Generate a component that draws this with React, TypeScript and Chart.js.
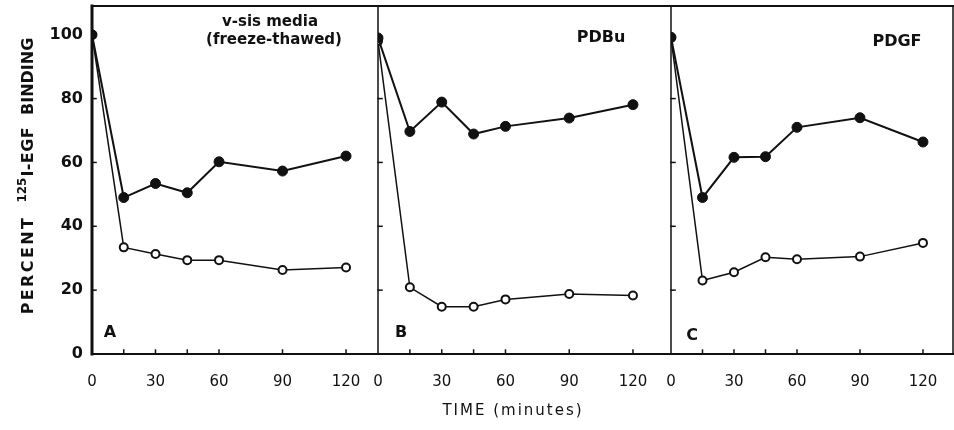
import React, { useEffect, useRef } from "react";
import { Chart, registerables } from "chart.js";

Chart.register(...registerables);

// ---- data ----
const times = [0, 15, 30, 45, 60, 90, 120];
const xTickLabels = [0, 30, 60, 90, 120];
const xMinorTicks = [15, 30, 45, 60, 90, 120];
const yTickValues = [0, 20, 40, 60, 80, 100];
const yInnerTicks = [20, 40, 60, 80];

const panelAFilled = [100, 49, 53.4, 50.5, 60.2, 57.3, 62];
const panelAOpen = [100, 33.4, 31.3, 29.4, 29.4, 26.3, 27.1];
const panelBFilled = [99, 69.7, 78.9, 68.9, 71.3, 73.9, 78.1];
const panelBOpen = [98, 20.9, 14.8, 14.8, 17.1, 18.8, 18.3];
const panelCFilled = [99.2, 49, 61.6, 61.8, 71, 74, 66.4];
const panelCOpen = [99, 23, 25.6, 30.3, 29.7, 30.5, 34.8];

const panelLetters = ["A", "B", "C"];
const panelTitles = [["v-sis media", "(freeze-thawed)"], ["PDBu"], ["PDGF"]];
const xTitle = "TIME (minutes)";
const yTitleParts = ["PERCENT", "125", "I-EGF", "BINDING"];

const INK = "#111111";
const FONT = "'DejaVu Sans', sans-serif";

function pts(values: number[]) {
  return times.map((t, i) => ({ x: t, y: values[i] }));
}

const filledStyle = {
  borderColor: INK,
  backgroundColor: INK,
  pointBackgroundColor: INK,
  pointBorderColor: INK,
  pointRadius: 5,
  pointBorderWidth: 1,
  borderWidth: 2,
  tension: 0,
};
const openStyle = {
  borderColor: INK,
  backgroundColor: "#ffffff",
  pointBackgroundColor: "#ffffff",
  pointBorderColor: INK,
  pointRadius: 4,
  pointBorderWidth: 2,
  borderWidth: 1.5,
  tension: 0,
};

const panelIds = ["x1", "x2", "x3"];
const panelWeights = [286, 293, 282];
const panelMax = [135.1, 137.9, 134.3];

const framePlugin = {
  id: "frame",
  beforeDatasetsDraw(chart: any) {
    const { ctx, chartArea } = chart;
    const { top, bottom, right } = chartArea;
    const ys = chart.scales.y;
    const line = (x1: number, y1: number, x2: number, y2: number) => {
      ctx.beginPath();
      ctx.moveTo(x1, y1);
      ctx.lineTo(x2, y2);
      ctx.stroke();
    };
    ctx.save();
    ctx.strokeStyle = INK;
    ctx.lineCap = "square";
    ctx.lineWidth = 2;
    line(chartArea.left, top, right, top);
    line(chartArea.left, bottom, right, bottom);
    panelIds.forEach((id, i) => {
      const s = chart.scales[id];
      ctx.lineWidth = i === 0 ? 3 : 1.5;
      line(s.left, top, s.left, bottom);
      ctx.lineWidth = 1.5;
      yInnerTicks.forEach((v) => {
        const y = ys.getPixelForValue(v);
        line(s.left, y, s.left + 4, y);
      });
      xMinorTicks.forEach((t) => {
        const x = s.getPixelForValue(t);
        line(x, bottom, x, bottom - 4);
      });
    });
    ctx.lineWidth = 1.5;
    line(right, top, right, bottom);
    ctx.restore();
  },
  afterDatasetsDraw(chart: any) {
    const { ctx, chartArea } = chart;
    ctx.save();
    ctx.fillStyle = INK;
    ctx.textAlign = "center";
    ctx.textBaseline = "middle";
    const titleOffsets = [
      [{ dx: 178, y: 22, size: 15 }, { dx: 182, y: 40, size: 15 }],
      [{ dx: 223, y: 38, size: 16 }],
      [{ dx: 226, y: 42, size: 16 }],
    ];
    const letterOffsets = [
      { dx: 18, y: 333 },
      { dx: 23, y: 333 },
      { dx: 21, y: 336 },
    ];
    panelIds.forEach((id, i) => {
      const s = chart.scales[id];
      panelTitles[i].forEach((t, j) => {
        const o = titleOffsets[i][j];
        ctx.font = `bold ${o.size}px ${FONT}`;
        ctx.fillText(t, s.left + o.dx, o.y);
      });
      ctx.font = `bold 16px ${FONT}`;
      ctx.fillText(panelLetters[i], s.left + letterOffsets[i].dx, letterOffsets[i].y);
    });

    // x title
    ctx.font = `15px ${FONT}`;
    (ctx as any).letterSpacing = "2px";
    ctx.fillText(xTitle, 513, 411);
    (ctx as any).letterSpacing = "0px";

    // y title (rotated)
    ctx.translate(33, (chartArea.top + chartArea.bottom) / 2 - 4);
    ctx.rotate(-Math.PI / 2);
    ctx.textAlign = "left";
    ctx.textBaseline = "alphabetic";
    const segs = [
      { t: yTitleParts[0], size: 16, sp: 2.4, rise: 0, gap: 13 },
      { t: yTitleParts[1], size: 12, sp: 0, rise: -7, gap: 1 },
      { t: yTitleParts[2], size: 16, sp: 0.4, rise: 0, gap: 12 },
      { t: yTitleParts[3], size: 16, sp: 0, rise: 0, gap: 0 },
    ];
    const widths = segs.map((s) => {
      ctx.font = `bold ${s.size}px ${FONT}`;
      (ctx as any).letterSpacing = `${s.sp}px`;
      return ctx.measureText(s.t).width;
    });
    const total = widths.reduce((a, b) => a + b, 0) + segs.reduce((a, s) => a + s.gap, 0);
    let x = -total / 2;
    segs.forEach((s, i) => {
      ctx.font = `bold ${s.size}px ${FONT}`;
      (ctx as any).letterSpacing = `${s.sp}px`;
      ctx.fillText(s.t, x, s.rise);
      x += widths[i] + s.gap;
    });
    (ctx as any).letterSpacing = "0px";
    ctx.restore();
  },
};

function xScale(i: number) {
  return {
    type: "linear" as const,
    position: "bottom" as const,
    stack: "time",
    stackWeight: panelWeights[i],
    min: 0,
    max: panelMax[i],
    grid: { display: false, drawTicks: false },
    border: { display: false },
    afterBuildTicks: (scale: any) => {
      scale.ticks = xTickLabels.map((v) => ({ value: v }));
    },
    afterFit: (scale: any) => {
      scale.height = 76;
      scale.paddingLeft = 0;
      scale.paddingRight = 0;
    },
    ticks: {
      autoSkip: false,
      maxRotation: 0,
      padding: 19,
      color: INK,
      font: { family: FONT, size: 15 },
    },
  };
}

export default function App() {
  const canvasRef = useRef<HTMLCanvasElement | null>(null);

  useEffect(() => {
    if (!canvasRef.current) return;
    const chart = new Chart(canvasRef.current, {
      type: "line",
      data: {
        datasets: [
          { ...filledStyle, label: "A filled", data: pts(panelAFilled), xAxisID: "x1", yAxisID: "y" },
          { ...filledStyle, label: "B filled", data: pts(panelBFilled), xAxisID: "x2", yAxisID: "y" },
          { ...filledStyle, label: "C filled", data: pts(panelCFilled), xAxisID: "x3", yAxisID: "y" },
          { ...openStyle, label: "A open", data: pts(panelAOpen), xAxisID: "x1", yAxisID: "y" },
          { ...openStyle, label: "B open", data: pts(panelBOpen), xAxisID: "x2", yAxisID: "y" },
          { ...openStyle, label: "C open", data: pts(panelCOpen), xAxisID: "x3", yAxisID: "y" },
        ] as any,
      },
      options: {
        animation: false,
        responsive: false,
        maintainAspectRatio: false,
        layout: { autoPadding: false, padding: { top: 6, right: 1, bottom: 0, left: 0 } },
        plugins: {
          legend: { display: false },
          tooltip: { enabled: false },
        },
        scales: {
          x1: xScale(0),
          x2: xScale(1),
          x3: xScale(2),
          y: {
            type: "linear",
            position: "left",
            min: 0,
            max: 109,
            grid: { display: false, drawTicks: false },
            border: { display: false },
            afterBuildTicks: (scale: any) => {
              scale.ticks = yTickValues.map((v) => ({ value: v }));
            },
            afterFit: (scale: any) => {
              scale.width = 92;
              scale.paddingTop = 0;
              scale.paddingBottom = 0;
            },
            ticks: {
              padding: 9,
              color: INK,
              font: { family: FONT, size: 16, weight: "bold" },
            },
          },
        } as any,
      },
      plugins: [framePlugin],
    });
    return () => chart.destroy();
  }, []);

  return (
    <div style={{ position: "absolute", left: 0, top: 0, width: 954, height: 430, background: "#fff" }}>
      <canvas ref={canvasRef} width={954} height={430} style={{ width: 954, height: 430 }} />
    </div>
  );
}
